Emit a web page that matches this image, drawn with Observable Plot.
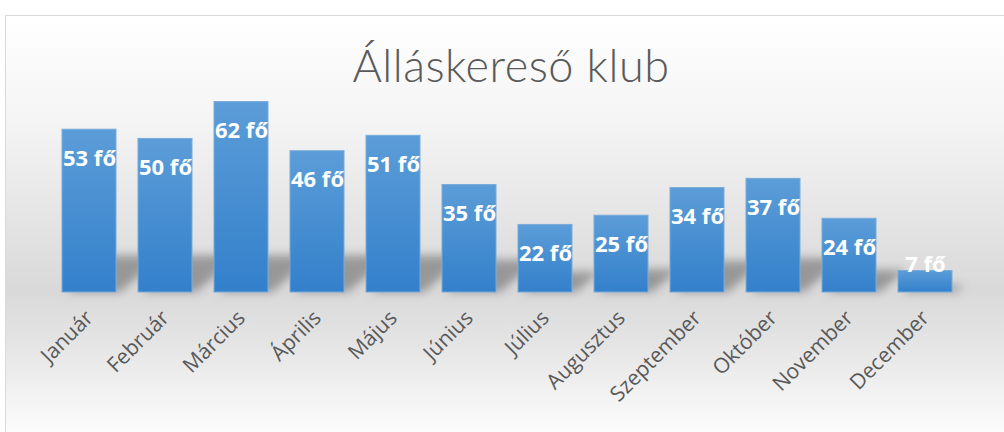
<!DOCTYPE html>
<html><head><meta charset="utf-8">
<script src="https://cdn.jsdelivr.net/npm/d3@7"></script>
<script src="https://cdn.jsdelivr.net/npm/@observablehq/plot@0.6"></script>
<style>
html,body{margin:0;padding:0;background:#fff;}
#wrap{position:relative;width:1004px;height:432px;overflow:hidden;}
#bg{position:absolute;left:5px;top:15px;width:1020px;height:430px;border:1px solid #d9d9d9;box-sizing:border-box;
 background:linear-gradient(to bottom,#ffffff 0%,#f4f4f4 25%,#d9d9d9 64%,#e4e4e4 76%,#ffffff 100%);}
#title{position:absolute;left:0;width:1022px;top:38px;text-align:center;font-family:Lato,"Open Sans",sans-serif;font-weight:300;font-size:45px;color:#595959;margin:0;letter-spacing:0.5px;}
#chart{position:absolute;left:0;top:0;}
</style></head>
<body>
<div id="wrap"><div id="bg"></div><h1 id="title">Álláskereső klub</h1><div id="chart"></div></div>
<script>
const months = ["Január","Február","Március","Április","Május","Június","Július","Augusztus","Szeptember","Október","November","December"];
const values = [53,50,62,46,51,35,22,25,34,37,24,7];
const unit = "fő";
const data = months.map((m,i)=>({month:m, value:values[i]}));

const plot = Plot.plot({
  width:1004, height:432,
  marginTop:77, marginBottom:140, marginLeft:49, marginRight:40,
  style:{background:"transparent", fontFamily:"'Open Sans',sans-serif"},
  x:{domain:months, paddingInner:0.293, paddingOuter:0.146, label:null},
  y:{domain:[0,70], axis:null},
  marks:[
    Plot.barY(data,{x:"month", y:d=>Math.min(d.value,40)*0.3, fill:"#555"}),
    Plot.barY(data,{x:"month", y:"value", fill:"url(#barGrad)", stroke:"#79abdb", strokeWidth:1}),
    Plot.text(data,{x:"month", y:d=>Math.max(d.value,18.5), dy:29, text:d=>d.value+" "+unit, fill:"white", fontWeight:"bold", fontSize:22, fontFamily:"'Open Sans',sans-serif", textAnchor:"middle"}),
    Plot.axisX({tickSize:0, tickRotate:-45, fontSize:21, tickPadding:22, fill:"#595959", label:null, fontFamily:"'Open Sans',sans-serif"})
  ]
});
document.getElementById("chart").appendChild(plot);
const svg = d3.select(plot);
const defs = svg.insert("defs",":first-child");
const g = defs.append("linearGradient").attr("id","barGrad").attr("x1",0).attr("y1",0).attr("x2",0).attr("y2",1);
g.append("stop").attr("offset","0%").attr("stop-color","#5c9dd8");
g.append("stop").attr("offset","100%").attr("stop-color","#3380cb");
const f = defs.append("filter").attr("id","blurShadow").attr("filterUnits","userSpaceOnUse")
  .attr("x",0).attr("y",0).attr("width",1004).attr("height",432);
f.append("feGaussianBlur").attr("stdDeviation",5);
const shadowG = d3.select(svg.selectAll('g[aria-label="bar"]').nodes()[0]);
shadowG.attr("opacity",0.5).attr("filter","url(#blurShadow)")
  .selectAll("rect").each(function(){
    const r = d3.select(this);
    const x0 = +r.attr("x"), y0 = +r.attr("y") + +r.attr("height");
    r.attr("transform",`translate(${x0+4},${y0}) skewX(-50) translate(${-x0},${-y0})`);
  });
</script>
</body></html>
